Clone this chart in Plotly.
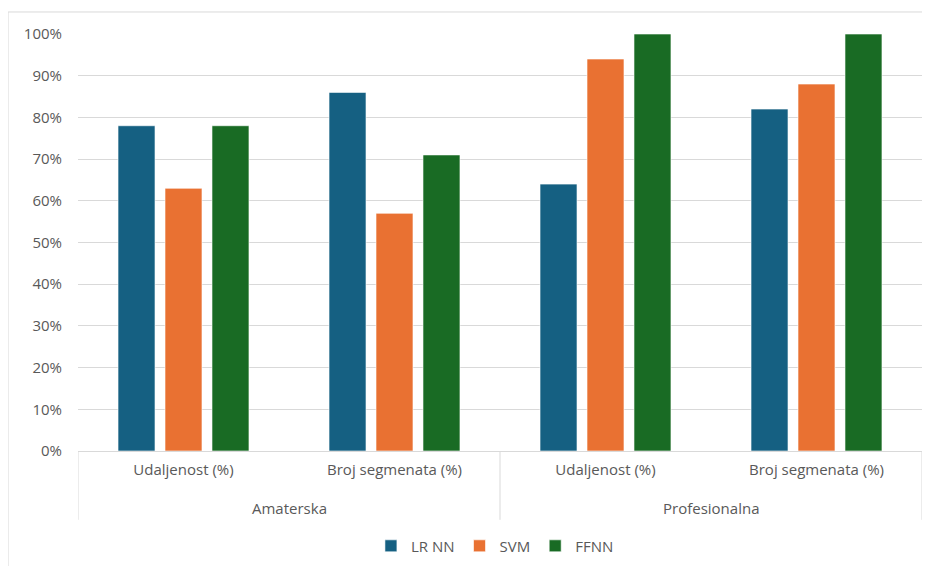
import plotly.graph_objects as go

groups = ["Amaterska", "Amaterska", "Profesionalna", "Profesionalna"]
categories = ["Udaljenost (%)", "Broj segmenata (%)", "Udaljenost (%)", "Broj segmenata (%)"]
lr_nn = [0.78, 0.86, 0.64, 0.82]
svm = [0.63, 0.57, 0.94, 0.88]
ffnn = [0.78, 0.71, 1.00, 1.00]
series_names = ["LR NN", "SVM", "FFNN"]
colors = ["#156082", "#E97132", "#196B24"]
y_ticks = [i / 10 for i in range(11)]

xpos = list(range(len(categories)))

fig = go.Figure()
for name, vals, c in zip(series_names, [lr_nn, svm, ffnn], colors):
    fig.add_trace(go.Bar(x=xpos, y=vals, name=name,
                         marker=dict(color=c, line=dict(color="white", width=0.6))))

font = dict(family="'Open Sans', sans-serif", size=15, color="#595959")
grid = "#d9d9d9"

annotations = []
shapes = []
unique_groups = []
for g in groups:
    if g not in unique_groups:
        unique_groups.append(g)
bounds = [-0.5]
for g in unique_groups:
    idx = [i for i, gg in enumerate(groups) if gg == g]
    annotations.append(dict(text=g, x=(idx[0] + idx[-1]) / 2, xref="x", y=-0.137, yref="paper",
                            showarrow=False, font=font, xanchor="center", yanchor="middle"))
    bounds.append(idx[-1] + 0.5)
for b in bounds:
    shapes.append(dict(type="line", xref="x", yref="paper", x0=b, x1=b, y0=0, y1=-0.165,
                       line=dict(color=grid, width=1)))
shapes.append(dict(type="rect", xref="paper", yref="paper",
                   x0=-0.0829, x1=1.06, y0=-0.4, y1=1.0528,
                   line=dict(color=grid, width=1), fillcolor="rgba(0,0,0,0)", layer="below"))

fig.update_layout(
    width=930, height=566,
    margin=dict(l=70, r=16, t=26, b=123, autoexpand=False),
    paper_bgcolor="white", plot_bgcolor="white",
    font=font,
    barmode="group", bargap=0.332, bargroupgap=0.213,
    showlegend=True,
    legend=dict(orientation="h", x=0.494, xanchor="center", y=-0.228, yanchor="middle",
                font=font, traceorder="normal"),
    xaxis=dict(range=[-0.5, len(categories) - 0.5], tickvals=xpos, ticktext=categories,
               showgrid=False, zeroline=False, showline=True, linecolor=grid, linewidth=1,
               ticks="", tickfont=font, ticklabelstandoff=5, automargin=False),
    yaxis=dict(range=[0, 1.0], tickvals=y_ticks, tickformat=".0%", showgrid=True,
               gridcolor=grid, gridwidth=1, zeroline=False, showline=False,
               ticks="", ticklabelstandoff=15, tickfont=font, automargin=False),
    annotations=annotations,
    shapes=shapes,
)
fig.write_html("out.html")
